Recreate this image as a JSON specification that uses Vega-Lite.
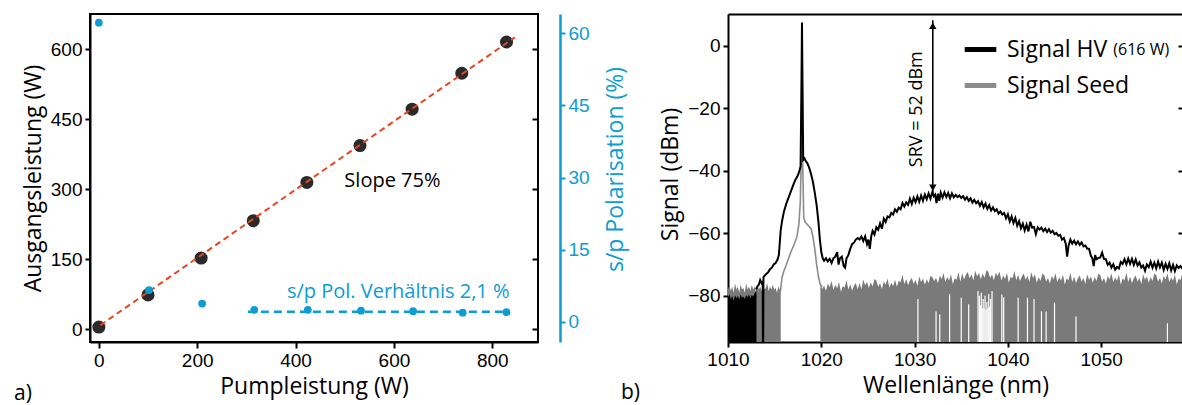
{
  "$schema": "https://vega.github.io/schema/vega-lite/v6.json",
  "padding": {"left": 13, "top": 13, "right": 0, "bottom": 0},
  "spacing": 190,
  "bounds": "flush",
  "config": {
    "font": "Open Sans",
    "view": {"stroke": null},
    "axis": {"grid": false, "labelFlush": false, "labelOverlap": false, "labelFont": "Liberation Sans", "labelFontSize": 19, "labelColor": "#000", "titleFont": "Open Sans", "titleFontSize": 23, "titleFontWeight": "normal", "titleColor": "#000", "domainColor": "#000", "domainWidth": 2, "tickColor": "#000", "tickWidth": 2, "tickSize": 5, "labelPadding": 3, "titlePadding": 5},
    "title": {"font": "Open Sans", "fontSize": 21, "fontWeight": "normal", "color": "#000"}
  },
  "datasets": {
    "output": [{"p":0,"a":5},{"p":100,"a":74},{"p":208,"a":153},{"p":314,"a":233},{"p":423,"a":315},{"p":531,"a":394},{"p":637,"a":472},{"p":738,"a":549},{"p":829,"a":616}],
    "pol": [{"p":0,"s":62.2},{"p":102,"s":6.6},{"p":210,"s":3.8},{"p":316,"s":2.5},{"p":425,"s":2.5},{"p":533,"s":2.3},{"p":639,"s":2.2},{"p":740,"s":1.9},{"p":829,"s":2.0}],
    "fit": [{"p":3,"a":9},{"p":846,"a":626}],
    "polfit": [{"p":303,"s":2.1},{"p":832,"s":2.1}],
    "notesA": [{"p":597,"a":318,"t":"Slope 75%"}],
    "notesB": [{"p":835,"s":6.3,"t":"s/p Pol. Verhältnis 2,1 %"}],
    "seednoise": [
      {"w":1010.0,"s":-78,"g":"A"},{"w":1010.15,"s":-76.5,"g":"A"},{"w":1010.3,"s":-78.5,"g":"A"},{"w":1010.45,"s":-77,"g":"A"},{"w":1010.6,"s":-79,"g":"A"},{"w":1010.75,"s":-76,"g":"A"},{"w":1010.9,"s":-78,"g":"A"},{"w":1011.05,"s":-77,"g":"A"},{"w":1011.2,"s":-79,"g":"A"},{"w":1011.35,"s":-76.5,"g":"A"},{"w":1011.5,"s":-78,"g":"A"},{"w":1011.65,"s":-77.5,"g":"A"},{"w":1011.8,"s":-79,"g":"A"},{"w":1011.95,"s":-76,"g":"A"},{"w":1012.1,"s":-78,"g":"A"},{"w":1012.25,"s":-77,"g":"A"},{"w":1012.4,"s":-78.5,"g":"A"},{"w":1012.55,"s":-76.5,"g":"A"},{"w":1012.7,"s":-78,"g":"A"},{"w":1012.85,"s":-77,"g":"A"},{"w":1013.0,"s":-79,"g":"A"},{"w":1013.15,"s":-76.5,"g":"A"},{"w":1013.3,"s":-78,"g":"A"},{"w":1013.45,"s":-77,"g":"A"},{"w":1013.6,"s":-78.5,"g":"A"},{"w":1013.75,"s":-76.5,"g":"A"},{"w":1013.9,"s":-78,"g":"A"},{"w":1014.05,"s":-77.5,"g":"A"},{"w":1014.2,"s":-76,"g":"A"},{"w":1014.35,"s":-78.5,"g":"A"},{"w":1014.5,"s":-77,"g":"A"},{"w":1014.65,"s":-78,"g":"A"},{"w":1014.8,"s":-76.5,"g":"A"},{"w":1014.95,"s":-78,"g":"A"},{"w":1015.1,"s":-77.5,"g":"A"},{"w":1015.25,"s":-79,"g":"A"},{"w":1015.4,"s":-77,"g":"A"},{"w":1015.55,"s":-78,"g":"A"},{"w":1015.65,"s":-78,"g":"A"},
      {"w":1019.9,"s":-75.8,"g":"B"},{"w":1020.1,"s":-77.8,"g":"B"},{"w":1020.3,"s":-76.7,"g":"B"},{"w":1020.5,"s":-78.5,"g":"B"},{"w":1020.7,"s":-76.1,"g":"B"},{"w":1020.9,"s":-77.2,"g":"B"},{"w":1021.1,"s":-75.2,"g":"B"},{"w":1021.3,"s":-78.1,"g":"B"},{"w":1021.5,"s":-76.5,"g":"B"},{"w":1021.7,"s":-77.6,"g":"B"},{"w":1021.9,"s":-75.6,"g":"B"},{"w":1022.1,"s":-78.8,"g":"B"},{"w":1022.3,"s":-76.9,"g":"B"},{"w":1022.5,"s":-77.4,"g":"B"},{"w":1022.7,"s":-75.0,"g":"B"},{"w":1022.9,"s":-78.0,"g":"B"},{"w":1023.1,"s":-76.3,"g":"B"},{"w":1023.3,"s":-78.3,"g":"B"},{"w":1023.5,"s":-76.8,"g":"B"},{"w":1023.7,"s":-75.9,"g":"B"},{"w":1023.9,"s":-77.9,"g":"B"},
      {"w":1024.1,"s":-75.9,"g":"B"},{"w":1024.3,"s":-77.9,"g":"B"},{"w":1024.5,"s":-74.8,"g":"B"},{"w":1024.7,"s":-76.6,"g":"B"},{"w":1024.9,"s":-75.5,"g":"B"},{"w":1025.1,"s":-77.5,"g":"B"},{"w":1025.3,"s":-75.7,"g":"B"},{"w":1025.5,"s":-77.0,"g":"B"},{"w":1025.7,"s":-74.6,"g":"B"},{"w":1025.9,"s":-75.1,"g":"B"},{"w":1026.1,"s":-77.1,"g":"B"},{"w":1026.3,"s":-76.0,"g":"B"},{"w":1026.5,"s":-77.8,"g":"B"},{"w":1026.7,"s":-75.4,"g":"B"},{"w":1026.9,"s":-76.5,"g":"B"},{"w":1027.1,"s":-74.5,"g":"B"},{"w":1027.3,"s":-77.4,"g":"B"},{"w":1027.5,"s":-75.8,"g":"B"},{"w":1027.7,"s":-76.9,"g":"B"},{"w":1027.9,"s":-74.9,"g":"B"},
      {"w":1028.1,"s":-77.1,"g":"B"},{"w":1028.3,"s":-75.2,"g":"B"},{"w":1028.5,"s":-75.7,"g":"B"},{"w":1028.7,"s":-73.3,"g":"B"},{"w":1028.9,"s":-76.3,"g":"B"},{"w":1029.1,"s":-74.6,"g":"B"},{"w":1029.3,"s":-76.6,"g":"B"},{"w":1029.5,"s":-75.1,"g":"B"},{"w":1029.7,"s":-74.2,"g":"B"},{"w":1029.9,"s":-76.2,"g":"B"},{"w":1030.1,"s":-74.9,"g":"B"},{"w":1030.3,"s":-76.9,"g":"B"},{"w":1030.5,"s":-73.8,"g":"B"},{"w":1030.7,"s":-75.6,"g":"B"},{"w":1030.9,"s":-74.5,"g":"B"},{"w":1031.1,"s":-76.5,"g":"B"},{"w":1031.3,"s":-74.7,"g":"B"},{"w":1031.5,"s":-76.0,"g":"B"},{"w":1031.7,"s":-73.6,"g":"B"},{"w":1031.9,"s":-74.1,"g":"B"},
      {"w":1032.1,"s":-75.3,"g":"B"},{"w":1032.3,"s":-74.2,"g":"B"},{"w":1032.5,"s":-76.0,"g":"B"},{"w":1032.7,"s":-73.6,"g":"B"},{"w":1032.9,"s":-74.7,"g":"B"},{"w":1033.1,"s":-72.7,"g":"B"},{"w":1033.3,"s":-75.6,"g":"B"},{"w":1033.5,"s":-74.0,"g":"B"},{"w":1033.7,"s":-75.1,"g":"B"},{"w":1033.9,"s":-73.1,"g":"B"},{"w":1034.1,"s":-76.3,"g":"B"},{"w":1034.3,"s":-74.4,"g":"B"},{"w":1034.5,"s":-74.9,"g":"B"},{"w":1034.7,"s":-72.5,"g":"B"},{"w":1034.9,"s":-75.5,"g":"B"},
      {"w":1035.1,"s":-72.8,"g":"B"},{"w":1035.3,"s":-74.8,"g":"B"},{"w":1035.5,"s":-73.3,"g":"B"},{"w":1035.7,"s":-72.4,"g":"B"},{"w":1035.9,"s":-74.4,"g":"B"},{"w":1036.1,"s":-73.1,"g":"B"},{"w":1036.3,"s":-75.1,"g":"B"},{"w":1036.5,"s":-72.0,"g":"B"},{"w":1036.7,"s":-73.8,"g":"B"},{"w":1036.9,"s":-72.7,"g":"B"},{"w":1037.1,"s":-74.7,"g":"B"},{"w":1037.3,"s":-72.9,"g":"B"},{"w":1037.5,"s":-74.2,"g":"B"},{"w":1037.7,"s":-71.8,"g":"B"},{"w":1037.9,"s":-72.3,"g":"B"},{"w":1038.1,"s":-74.3,"g":"B"},{"w":1038.3,"s":-73.2,"g":"B"},{"w":1038.5,"s":-75.0,"g":"B"},{"w":1038.7,"s":-72.6,"g":"B"},{"w":1038.9,"s":-73.7,"g":"B"},
      {"w":1039.1,"s":-72.2,"g":"B"},{"w":1039.3,"s":-75.1,"g":"B"},{"w":1039.5,"s":-73.5,"g":"B"},{"w":1039.7,"s":-74.6,"g":"B"},{"w":1039.9,"s":-72.6,"g":"B"},{"w":1040.1,"s":-75.8,"g":"B"},{"w":1040.3,"s":-73.9,"g":"B"},{"w":1040.5,"s":-74.4,"g":"B"},{"w":1040.7,"s":-72.0,"g":"B"},{"w":1040.9,"s":-75.0,"g":"B"},{"w":1041.1,"s":-73.3,"g":"B"},{"w":1041.3,"s":-75.3,"g":"B"},{"w":1041.5,"s":-73.8,"g":"B"},{"w":1041.7,"s":-72.9,"g":"B"},{"w":1041.9,"s":-74.9,"g":"B"},{"w":1042.1,"s":-73.6,"g":"B"},{"w":1042.3,"s":-75.6,"g":"B"},{"w":1042.5,"s":-72.5,"g":"B"},{"w":1042.7,"s":-74.3,"g":"B"},{"w":1042.9,"s":-73.2,"g":"B"},
      {"w":1043.1,"s":-75.8,"g":"B"},{"w":1043.3,"s":-74.0,"g":"B"},{"w":1043.5,"s":-75.3,"g":"B"},{"w":1043.7,"s":-72.9,"g":"B"},{"w":1043.9,"s":-73.4,"g":"B"},{"w":1044.1,"s":-75.4,"g":"B"},{"w":1044.3,"s":-74.3,"g":"B"},{"w":1044.5,"s":-76.1,"g":"B"},{"w":1044.7,"s":-73.7,"g":"B"},{"w":1044.9,"s":-74.8,"g":"B"},{"w":1045.1,"s":-72.8,"g":"B"},{"w":1045.3,"s":-75.7,"g":"B"},{"w":1045.5,"s":-74.1,"g":"B"},{"w":1045.7,"s":-75.2,"g":"B"},{"w":1045.9,"s":-73.2,"g":"B"},{"w":1046.1,"s":-76.4,"g":"B"},{"w":1046.3,"s":-74.5,"g":"B"},{"w":1046.5,"s":-75.0,"g":"B"},{"w":1046.7,"s":-72.6,"g":"B"},{"w":1046.9,"s":-75.6,"g":"B"},
      {"w":1047.1,"s":-73.9,"g":"B"},{"w":1047.3,"s":-75.9,"g":"B"},{"w":1047.5,"s":-74.4,"g":"B"},{"w":1047.7,"s":-73.5,"g":"B"},{"w":1047.9,"s":-75.5,"g":"B"},{"w":1048.1,"s":-74.2,"g":"B"},{"w":1048.3,"s":-76.2,"g":"B"},{"w":1048.5,"s":-73.1,"g":"B"},{"w":1048.7,"s":-74.9,"g":"B"},{"w":1048.9,"s":-73.8,"g":"B"},{"w":1049.1,"s":-75.8,"g":"B"},{"w":1049.3,"s":-74.0,"g":"B"},{"w":1049.5,"s":-75.3,"g":"B"},{"w":1049.7,"s":-72.9,"g":"B"},{"w":1049.9,"s":-73.4,"g":"B"},{"w":1050.1,"s":-75.4,"g":"B"},{"w":1050.3,"s":-74.3,"g":"B"},{"w":1050.5,"s":-76.1,"g":"B"},{"w":1050.7,"s":-73.7,"g":"B"},{"w":1050.9,"s":-74.8,"g":"B"},
      {"w":1051.1,"s":-72.8,"g":"B"},{"w":1051.3,"s":-75.7,"g":"B"},{"w":1051.5,"s":-74.1,"g":"B"},{"w":1051.7,"s":-75.2,"g":"B"},{"w":1051.9,"s":-73.2,"g":"B"},{"w":1052.1,"s":-76.4,"g":"B"},{"w":1052.3,"s":-74.5,"g":"B"},{"w":1052.5,"s":-75.0,"g":"B"},{"w":1052.7,"s":-72.6,"g":"B"},{"w":1052.9,"s":-75.6,"g":"B"},{"w":1053.1,"s":-73.9,"g":"B"},{"w":1053.3,"s":-75.9,"g":"B"},{"w":1053.5,"s":-74.4,"g":"B"},{"w":1053.7,"s":-73.5,"g":"B"},{"w":1053.9,"s":-75.5,"g":"B"},{"w":1054.1,"s":-74.2,"g":"B"},{"w":1054.3,"s":-76.2,"g":"B"},{"w":1054.5,"s":-73.1,"g":"B"},{"w":1054.7,"s":-74.9,"g":"B"},{"w":1054.9,"s":-73.8,"g":"B"},
      {"w":1055.1,"s":-75.8,"g":"B"},{"w":1055.3,"s":-74.0,"g":"B"},{"w":1055.5,"s":-75.3,"g":"B"},{"w":1055.7,"s":-72.9,"g":"B"},{"w":1055.9,"s":-73.4,"g":"B"},{"w":1056.1,"s":-75.4,"g":"B"},{"w":1056.3,"s":-74.3,"g":"B"},{"w":1056.5,"s":-76.1,"g":"B"},{"w":1056.7,"s":-73.7,"g":"B"},{"w":1056.9,"s":-74.8,"g":"B"},{"w":1057.1,"s":-72.8,"g":"B"},{"w":1057.3,"s":-75.7,"g":"B"},{"w":1057.5,"s":-74.1,"g":"B"},{"w":1057.7,"s":-75.2,"g":"B"},{"w":1057.9,"s":-73.2,"g":"B"},{"w":1058.1,"s":-76.4,"g":"B"},{"w":1058.3,"s":-74.5,"g":"B"},{"w":1058.5,"s":-75.0,"g":"B"},{"w":1058.7,"s":-72.6,"g":"B"},{"w":1058.9,"s":-75.6,"g":"B"},{"w":1059.1,"s":-73.9,"g":"B"}
    ],
    "gaps": [
      {"w":1030.36,"s":-81},{"w":1032.3,"s":-85},{"w":1032.7,"s":-86},{"w":1033.75,"s":-79.5},{"w":1035.0,"s":-80.6},{"w":1035.8,"s":-82.7},{"w":1036.8,"s":-78.5},{"w":1036.95,"s":-80},{"w":1037.05,"s":-83},{"w":1037.15,"s":-79},{"w":1037.25,"s":-84},{"w":1037.35,"s":-81},{"w":1037.45,"s":-84},{"w":1037.55,"s":-80},{"w":1037.65,"s":-84.5},{"w":1037.75,"s":-82},{"w":1037.85,"s":-84},{"w":1037.95,"s":-79.5},{"w":1038.05,"s":-83.5},{"w":1038.15,"s":-81},{"w":1038.3,"s":-78.5},{"w":1039.35,"s":-79.6},{"w":1039.55,"s":-80.5},{"w":1041.1,"s":-80.6},{"w":1042.1,"s":-80.6},{"w":1042.8,"s":-81},{"w":1043.6,"s":-85},{"w":1044.1,"s":-85},{"w":1045.0,"s":-82.2},{"w":1047.3,"s":-86.6},{"w":1057.1,"s":-88.8}
    ],
    "hvfloor": [
      {"w":1010.0,"s":-80.5},{"w":1010.15,"s":-79.5},{"w":1010.3,"s":-81},{"w":1010.45,"s":-80},{"w":1010.6,"s":-81.5},{"w":1010.75,"s":-79.8},{"w":1010.9,"s":-80.8},{"w":1011.05,"s":-80},{"w":1011.2,"s":-81.2},{"w":1011.35,"s":-79.6},{"w":1011.5,"s":-80.6},{"w":1011.65,"s":-80.2},{"w":1011.8,"s":-81},{"w":1011.95,"s":-79.8},{"w":1012.1,"s":-80.5},{"w":1012.25,"s":-79.5},{"w":1012.4,"s":-80.8},{"w":1012.55,"s":-79.7},{"w":1012.7,"s":-80.3},{"w":1012.85,"s":-79.2},{"w":1013.0,"s":-78.5},{"w":1013.05,"s":-78}
    ],
    "seedline": [
      {"w":1015.6,"s":-79},{"w":1015.8,"s":-74},{"w":1016.0,"s":-72},{"w":1016.2,"s":-70.5},{"w":1016.5,"s":-68},{"w":1016.8,"s":-65.5},{"w":1017.1,"s":-63.5},{"w":1017.4,"s":-61},{"w":1017.6,"s":-57},{"w":1017.75,"s":-50},{"w":1017.85,"s":-35},{"w":1017.93,"s":-30},{"w":1018.02,"s":-40},{"w":1018.12,"s":-55},{"w":1018.3,"s":-56.5},{"w":1018.6,"s":-57.5},{"w":1018.9,"s":-58.5},{"w":1019.1,"s":-61},{"w":1019.3,"s":-65},{"w":1019.5,"s":-70},{"w":1019.7,"s":-74},{"w":1019.9,"s":-76.5},{"w":1020.1,"s":-77}
    ],
    "hv": [
      {"w":1013.0,"s":-78},{"w":1013.15,"s":-77},{"w":1013.3,"s":-76.5},{"w":1013.45,"s":-75},{"w":1013.6,"s":-76},{"w":1013.72,"s":-75.5},{"w":1013.74,"s":-97},{"w":1013.77,"s":-97},{"w":1013.8,"s":-74},{"w":1013.95,"s":-73.5},{"w":1014.1,"s":-73},{"w":1014.3,"s":-72.5},{"w":1014.5,"s":-71.5},{"w":1014.7,"s":-71},{"w":1014.9,"s":-70},{"w":1015.1,"s":-69.5},{"w":1015.3,"s":-68.5},{"w":1015.45,"s":-67},{"w":1015.55,"s":-63},{"w":1015.65,"s":-59},{"w":1015.8,"s":-56},{"w":1016.0,"s":-53},{"w":1016.25,"s":-50.5},{"w":1016.5,"s":-48.5},{"w":1016.75,"s":-46.5},{"w":1017.0,"s":-44.5},{"w":1017.2,"s":-43},{"w":1017.4,"s":-42},{"w":1017.55,"s":-41},{"w":1017.7,"s":-39.5},{"w":1017.78,"s":-38.5},{"w":1017.88,"s":-10},{"w":1017.93,"s":7.5},{"w":1017.98,"s":-10},{"w":1018.06,"s":-36.5},{"w":1018.2,"s":-36},{"w":1018.35,"s":-37},{"w":1018.5,"s":-37.5},{"w":1018.7,"s":-39},{"w":1018.9,"s":-41},{"w":1019.1,"s":-43.5},{"w":1019.3,"s":-47},{"w":1019.5,"s":-51},{"w":1019.7,"s":-56.5},{"w":1019.85,"s":-62},{"w":1020.0,"s":-66},{"w":1020.15,"s":-68},{"w":1020.3,"s":-68.8},{"w":1020.5,"s":-68},{"w":1020.7,"s":-69},{"w":1020.9,"s":-68.2},{"w":1021.1,"s":-69.5},{"w":1021.3,"s":-68},{"w":1021.5,"s":-67.5},{"w":1021.7,"s":-66},{"w":1021.85,"s":-70},{"w":1022.0,"s":-68},{"w":1022.2,"s":-67.5},{"w":1022.4,"s":-70.5},{"w":1022.55,"s":-71},{"w":1022.7,"s":-68},{"w":1022.9,"s":-67},{"w":1023.1,"s":-65},{"w":1023.3,"s":-63.5},{"w":1023.5,"s":-63},{"w":1023.7,"s":-62},{"w":1023.9,"s":-61.5},{"w":1024.1,"s":-62},{"w":1024.3,"s":-61},{"w":1024.5,"s":-62.5},{"w":1024.7,"s":-61},{"w":1024.9,"s":-63.5},{"w":1025.05,"s":-62},{"w":1025.2,"s":-65},{"w":1025.35,"s":-61},
      {"w":1025.5,"s":-59.2},{"w":1025.7,"s":-60.4},{"w":1025.9,"s":-58.1},{"w":1026.1,"s":-58.9},{"w":1026.3,"s":-56.8},{"w":1026.5,"s":-58.6},{"w":1026.7,"s":-55.3},{"w":1026.9,"s":-56.4},{"w":1027.1,"s":-54.6},{"w":1027.3,"s":-54.9},{"w":1027.5,"s":-53.5},{"w":1027.7,"s":-54},{"w":1027.9,"s":-52.3},{"w":1028.1,"s":-53.1},{"w":1028.3,"s":-51.8},{"w":1028.5,"s":-52.3},{"w":1028.7,"s":-50.3},{"w":1028.9,"s":-51.4},{"w":1029.1,"s":-50.1},{"w":1029.3,"s":-50.9},{"w":1029.5,"s":-48.9},{"w":1029.7,"s":-50.6},{"w":1029.9,"s":-48.6},{"w":1030.1,"s":-50},{"w":1030.3,"s":-48.2},{"w":1030.5,"s":-49.9},{"w":1030.7,"s":-47.9},{"w":1030.9,"s":-49.6},{"w":1031.1,"s":-47.6},{"w":1031.3,"s":-49.1},{"w":1031.5,"s":-47.2},{"w":1031.7,"s":-48.9},{"w":1031.9,"s":-46.8},
      {"w":1032.05,"s":-48.1},{"w":1032.2,"s":-47.6},{"w":1032.35,"s":-50.3},{"w":1032.5,"s":-47.3},{"w":1032.65,"s":-49.6},{"w":1032.8,"s":-47},{"w":1033.0,"s":-48.6},{"w":1033.2,"s":-46.9},{"w":1033.4,"s":-48.4},{"w":1033.6,"s":-47.1},{"w":1033.8,"s":-48.8},{"w":1034.0,"s":-47.2},{"w":1034.2,"s":-48.5},{"w":1034.4,"s":-47.7},{"w":1034.6,"s":-48.4},{"w":1034.8,"s":-47.9},{"w":1035.0,"s":-48.7},{"w":1035.2,"s":-48.1},{"w":1035.4,"s":-49.2},{"w":1035.6,"s":-48.4},{"w":1035.8,"s":-49.6},{"w":1036.0,"s":-48.8},{"w":1036.2,"s":-50.2},{"w":1036.4,"s":-49.3},{"w":1036.6,"s":-50.4},{"w":1036.8,"s":-49.7},{"w":1037.0,"s":-51.2},{"w":1037.2,"s":-50},{"w":1037.4,"s":-51.7},{"w":1037.6,"s":-50.5},{"w":1037.8,"s":-52.2},{"w":1038.0,"s":-51},{"w":1038.2,"s":-52.7},{"w":1038.4,"s":-51.7},{"w":1038.6,"s":-52.9},{"w":1038.8,"s":-52.3},{"w":1039.0,"s":-53.7},{"w":1039.2,"s":-53},{"w":1039.4,"s":-54},{"w":1039.6,"s":-53.5},{"w":1039.8,"s":-55.2},{"w":1040.0,"s":-53.9},{"w":1040.2,"s":-56.2},{"w":1040.4,"s":-54.6},{"w":1040.6,"s":-56.7},{"w":1040.8,"s":-55.1},{"w":1041.0,"s":-57.6},{"w":1041.2,"s":-56.1},{"w":1041.4,"s":-58.4},{"w":1041.6,"s":-56.9},{"w":1041.8,"s":-59.1},{"w":1042.0,"s":-57.2},{"w":1042.2,"s":-59.4},{"w":1042.4,"s":-56.3},{"w":1042.6,"s":-58.2},{"w":1042.8,"s":-58},{"w":1043.0,"s":-60.3},{"w":1043.2,"s":-58.1},{"w":1043.4,"s":-58.8},{"w":1043.6,"s":-58.2},{"w":1043.8,"s":-59.3},{"w":1044.0,"s":-58.5},{"w":1044.2,"s":-59.6},{"w":1044.4,"s":-58.7},{"w":1044.6,"s":-59.8},{"w":1044.8,"s":-59.2},{"w":1045.0,"s":-60.3},{"w":1045.2,"s":-59.9},{"w":1045.4,"s":-60.8},{"w":1045.6,"s":-60.5},{"w":1045.8,"s":-62},{"w":1046.0,"s":-61.5},{"w":1046.2,"s":-63.3},{"w":1046.35,"s":-67.5},{"w":1046.5,"s":-64},{"w":1046.7,"s":-62},{"w":1046.9,"s":-63.3},{"w":1047.1,"s":-62.4},{"w":1047.3,"s":-63.5},{"w":1047.5,"s":-62.6},{"w":1047.7,"s":-63.7},{"w":1047.9,"s":-62.9},{"w":1048.1,"s":-64.2},{"w":1048.3,"s":-63.9},{"w":1048.5,"s":-64.9},{"w":1048.7,"s":-65},{"w":1048.9,"s":-67.2},{"w":1049.05,"s":-68},{"w":1049.2,"s":-70.5},{"w":1049.35,"s":-67},{"w":1049.5,"s":-68.3},{"w":1049.7,"s":-67.9},{"w":1049.9,"s":-67.7},{"w":1050.1,"s":-66.2},{"w":1050.3,"s":-68.2},{"w":1050.5,"s":-68.3},{"w":1050.7,"s":-70.1},{"w":1050.9,"s":-69.4},{"w":1051.1,"s":-71},{"w":1051.3,"s":-69.9},{"w":1051.5,"s":-71.6},{"w":1051.7,"s":-70.8},{"w":1051.9,"s":-71.3},{"w":1052.1,"s":-69.2},{"w":1052.3,"s":-69.8},{"w":1052.5,"s":-68.3},{"w":1052.7,"s":-69.9},{"w":1052.9,"s":-68.1},{"w":1053.1,"s":-69.8},{"w":1053.3,"s":-68.2},{"w":1053.5,"s":-70.1},{"w":1053.7,"s":-68.4},{"w":1053.9,"s":-70.3},{"w":1054.1,"s":-69.3},{"w":1054.3,"s":-71},{"w":1054.5,"s":-70.3},{"w":1054.7,"s":-72},{"w":1054.9,"s":-70},{"w":1055.1,"s":-70.8},{"w":1055.3,"s":-69.1},{"w":1055.5,"s":-71},{"w":1055.7,"s":-69.4},{"w":1055.9,"s":-71.2},{"w":1056.1,"s":-69.1},{"w":1056.3,"s":-70.9},{"w":1056.5,"s":-69.4},{"w":1056.7,"s":-71.7},{"w":1056.9,"s":-69.8},{"w":1057.1,"s":-71.4},{"w":1057.3,"s":-69.6},{"w":1057.5,"s":-71.9},{"w":1057.7,"s":-70.1},{"w":1057.9,"s":-72.1},{"w":1058.1,"s":-70.3},{"w":1058.3,"s":-71.1},{"w":1058.5,"s":-70.5},{"w":1058.7,"s":-71.3},{"w":1058.9,"s":-70.7},{"w":1059.1,"s":-71.2}
    ],
    "srv": [{"w":1031.95,"s":8.2,"s2":-47.2}],
    "heads": [{"w":1031.95,"s":6.4,"d":"up"},{"w":1031.95,"s":-45.4,"d":"down"}],
    "srvtext": [{"w":1030.3,"s":-20.3,"t":"SRV = 52 dBm"}],
    "hvpower": [{"w":1051.3,"s":-1.2,"t":"(616 W)"}]
  },
  "hconcat": [
    {
      "width": 448,
      "height": 328,
      "view": {"stroke": "#000", "strokeWidth": 2},
      "title": {"text": "a)", "orient": "bottom", "anchor": "start", "frame": "group", "dx": -76, "offset": -15},
      "layer": [
        {
          "data": {"name": "output"},
          "mark": {"type": "circle", "size": 170, "color": "#2a2a2a", "opacity": 1},
          "encoding": {
            "x": {"field": "p", "type": "quantitative", "scale": {"domain": [-18, 893], "nice": false, "zero": false}, "axis": {"values": [0, 200, 400, 600, 800], "title": "Pumpleistung (W)", "tickSize": 6}},
            "y": {"field": "a", "type": "quantitative", "scale": {"domain": [-27, 676], "nice": false, "zero": false}, "axis": {"orient": "left", "values": [0, 150, 300, 450, 600], "title": "Ausgangsleistung (W)"}}
          }
        },
        {
          "data": {"name": "fit"},
          "mark": {"type": "line", "color": "#e8461e", "strokeWidth": 2, "strokeDash": [6, 4]},
          "encoding": {
            "x": {"field": "p", "type": "quantitative", "scale": {"domain": [-18, 893], "nice": false, "zero": false}},
            "y": {"field": "a", "type": "quantitative", "scale": {"domain": [-27, 676], "nice": false, "zero": false}, "axis": {"orient": "right", "offset": -6, "values": [0, 150, 300, 450, 600], "labels": false, "domain": false, "tickSize": 6, "title": null}}
          }
        },
        {
          "data": {"name": "notesA"},
          "mark": {"type": "text", "font": "Open Sans", "fontSize": 20, "color": "#000"},
          "encoding": {
            "x": {"field": "p", "type": "quantitative", "scale": {"domain": [-18, 893], "nice": false, "zero": false}},
            "y": {"field": "a", "type": "quantitative", "scale": {"domain": [-27, 676], "nice": false, "zero": false}, "axis": null},
            "text": {"field": "t"}
          }
        },
        {
          "data": {"name": "pol"},
          "mark": {"type": "circle", "size": 60, "color": "#0c9dd3", "opacity": 1},
          "encoding": {
            "x": {"field": "p", "type": "quantitative", "scale": {"domain": [-18, 893], "nice": false, "zero": false}},
            "y": {"field": "s", "type": "quantitative", "scale": {"domain": [-4.2, 64], "nice": false, "zero": false}, "axis": {"orient": "right", "offset": 22, "values": [0, 15, 30, 45, 60], "title": "s/p Polarisation (%)", "titleAngle": 270, "titleBaseline": "top", "titlePadding": 15, "titleY": 155, "domainColor": "#0c9dd3", "tickColor": "#0c9dd3", "labelColor": "#0c9dd3", "titleColor": "#0c9dd3", "domainWidth": 2.5, "tickSize": 5}}
          }
        },
        {
          "data": {"name": "polfit"},
          "mark": {"type": "line", "color": "#0c9dd3", "strokeWidth": 2.5, "strokeDash": [8, 5]},
          "encoding": {
            "x": {"field": "p", "type": "quantitative", "scale": {"domain": [-18, 893], "nice": false, "zero": false}},
            "y": {"field": "s", "type": "quantitative", "scale": {"domain": [-4.2, 64], "nice": false, "zero": false}, "axis": null}
          }
        },
        {
          "data": {"name": "notesB"},
          "mark": {"type": "text", "font": "Open Sans", "fontSize": 20, "color": "#0c9dd3", "align": "right"},
          "encoding": {
            "x": {"field": "p", "type": "quantitative", "scale": {"domain": [-18, 893], "nice": false, "zero": false}},
            "y": {"field": "s", "type": "quantitative", "scale": {"domain": [-4.2, 64], "nice": false, "zero": false}, "axis": null},
            "text": {"field": "t"}
          }
        }
      ],
      "resolve": {"scale": {"y": "independent"}, "axis": {"y": "independent"}}
    },
    {
      "width": 455,
      "height": 328,
      "title": {"text": "b)", "orient": "bottom", "anchor": "start", "frame": "group", "dx": -107, "offset": -15},
      "layer": [
        {
          "data": {"name": "seednoise"},
          "mark": {"type": "area", "color": "#7a7a7a", "clip": true},
          "encoding": {
            "x": {"field": "w", "type": "quantitative", "scale": {"domain": [1010, 1058.77], "nice": false, "zero": false}, "axis": {"values": [1010, 1020, 1030, 1040, 1050], "title": "Wellenlänge (nm)", "format": "d"}},
            "y": {"field": "s", "type": "quantitative", "scale": {"domain": [-94.8, 10.2], "nice": false, "zero": false}, "axis": {"orient": "left", "values": [0, -20, -40, -60, -80], "title": "Signal (dBm)", "titleY": 160}},
            "y2": {"datum": -100},
            "detail": {"field": "g"}
          }
        },
        {
          "data": {"name": "gaps"},
          "mark": {"type": "rule", "color": "#ffffff", "strokeWidth": 1.2, "clip": true},
          "encoding": {
            "x": {"field": "w", "type": "quantitative", "axis": null},
            "y": {"field": "s", "type": "quantitative", "axis": null},
            "y2": {"datum": -100}
          }
        },
        {
          "data": {"name": "hvfloor"},
          "mark": {"type": "area", "color": "#000000", "clip": true},
          "encoding": {
            "x": {"field": "w", "type": "quantitative", "axis": null},
            "y": {"field": "s", "type": "quantitative", "axis": null},
            "y2": {"datum": -100}
          }
        },
        {
          "data": {"name": "seedline"},
          "mark": {"type": "line", "strokeWidth": 1.6, "clip": true},
          "encoding": {
            "x": {"field": "w", "type": "quantitative", "axis": null},
            "y": {"field": "s", "type": "quantitative", "axis": null},
            "color": {"datum": "Signal Seed", "type": "nominal", "scale": {"domain": ["Signal HV", "Signal Seed"], "range": ["#000000", "#8c8c8c"]}, "legend": {"orient": "none", "legendX": 872, "legendY": 17, "title": null, "symbolType": "stroke", "symbolSize": 1000, "symbolStrokeWidth": 5, "labelFont": "Open Sans", "labelFontSize": 23, "labelColor": "#000", "rowPadding": 5, "labelOffset": 8, "padding": 0}}
          }
        },
        {
          "data": {"name": "hv"},
          "mark": {"type": "line", "strokeWidth": 2, "clip": true},
          "encoding": {
            "x": {"field": "w", "type": "quantitative", "axis": {"orient": "top", "labels": false, "ticks": false, "title": null}},
            "y": {"field": "s", "type": "quantitative", "axis": {"orient": "right", "offset": -5, "values": [0, -20, -40, -60, -80], "labels": false, "domain": false, "tickSize": 5, "title": null}},
            "color": {"datum": "Signal HV", "type": "nominal"}
          }
        },
        {
          "data": {"name": "srv"},
          "mark": {"type": "rule", "color": "#000", "strokeWidth": 1.6},
          "encoding": {
            "x": {"field": "w", "type": "quantitative", "axis": null},
            "y": {"field": "s", "type": "quantitative", "axis": null},
            "y2": {"field": "s2"}
          }
        },
        {
          "data": {"name": "heads"},
          "mark": {"type": "point", "filled": true, "size": 55, "color": "#000", "opacity": 1},
          "encoding": {
            "x": {"field": "w", "type": "quantitative", "axis": null},
            "y": {"field": "s", "type": "quantitative", "axis": null},
            "shape": {"field": "d", "type": "nominal", "scale": {"domain": ["up", "down"], "range": ["triangle-up", "triangle-down"]}, "legend": null}
          }
        },
        {
          "data": {"name": "srvtext"},
          "mark": {"type": "text", "font": "Open Sans", "fontSize": 18, "angle": 270, "color": "#000"},
          "encoding": {
            "x": {"field": "w", "type": "quantitative", "axis": null},
            "y": {"field": "s", "type": "quantitative", "axis": null},
            "text": {"field": "t"}
          }
        },
        {
          "data": {"name": "hvpower"},
          "mark": {"type": "text", "font": "Open Sans", "fontSize": 16, "align": "left", "color": "#000"},
          "encoding": {
            "x": {"field": "w", "type": "quantitative", "axis": null},
            "y": {"field": "s", "type": "quantitative", "axis": null},
            "text": {"field": "t"}
          }
        }
      ],
      "resolve": {"axis": {"x": "independent", "y": "independent"}}
    }
  ]
}
